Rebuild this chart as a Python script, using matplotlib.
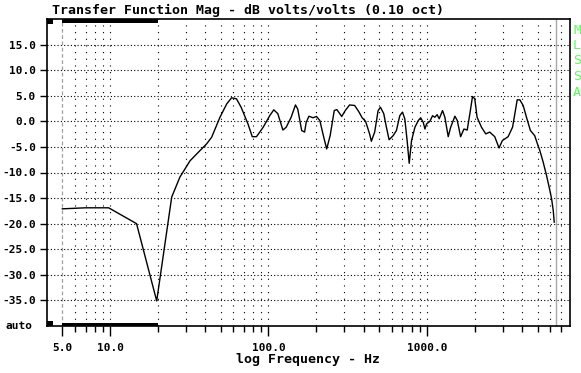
import numpy as np
from matplotlib import pyplot as plt

## data
freq = [5.0, 7.0, 9.8, 14.7, 19.7, 24.5, 27.6, 32, 37, 40.7, 43.8, 49.4, 54.5, 58.5, 62.8,
        67.2, 74.2, 79, 84, 92.6, 101.8, 108, 114.5, 123.3, 129.4, 139, 148, 153, 162, 169,
        173, 180, 191, 201, 211, 222, 233, 245, 260, 270, 290, 305, 325, 350, 373, 390, 410,
        425, 436, 446, 468, 492, 509, 534, 555, 577, 612, 642, 674, 701, 725, 750, 773, 800,
        840, 882, 913, 948, 972, 995, 1044, 1085, 1122, 1160, 1195, 1255, 1298, 1363, 1412,
        1502, 1555, 1632, 1713, 1796, 1867, 1940, 2005, 2073, 2210, 2351, 2491, 2680, 2852,
        2996, 3255, 3471, 3590, 3713, 3860, 4050, 4250, 4500, 4790, 5020, 5160, 5420, 5690,
        5970, 6120, 6270, 6360]
mag = [-17.1, -16.9, -16.9, -20.0, -35.1, -14.8, -10.9, -7.7, -5.7, -4.4, -3.1, 0.8, 3.4, 4.6, 4.4,
       2.75, -0.5, -3.0, -3.0, -1.15, 1.1, 2.25, 1.5, -1.7, -1.15, 0.8, 3.2, 2.4, -1.8, -2.1,
       -0.2, 1.0, 0.7, 0.95, 0.15, -2.8, -5.4, -2.8, 2.1, 2.3, 0.95, 2.1, 3.2, 3.1, 1.8, 0.7, 0.0,
       -1.5, -2.6, -3.9, -2.1, 2.1, 2.75, 1.5, -1.15, -3.6, -2.8, -1.8, 1.1, 1.8, 0.5, -3.75, -8.2, -3.75,
       -1.15, 0.15, 0.7, -0.2, -1.5, -0.5, 0.0, 1.1, 0.8, 1.3, 0.5, 2.1, 0.8, -3.0, -1.15,
       1.0, 0.15, -3.0, -1.5, -1.7, 1.5, 4.85, 4.4, 0.8, -1.15, -2.45, -2.1, -3.0, -5.2,
       -3.75, -3.0, -1.15, 1.5, 4.2, 4.2, 3.1, 0.8, -1.8, -2.8, -4.7, -5.7, -8.0, -10.6,
       -13.5, -15.1, -17.4, -19.7]

yticks = [15, 10, 5, 0, -5, -10, -15, -20, -25, -30, -35]
xticks = [5, 10, 100, 1000]
xticklabels = ['5.0', '10.0', '100.0', '1000.0']
minor_x = [6, 7, 8, 9, 20, 30, 40, 50, 60, 70, 80, 90, 200, 300, 400, 500, 600, 700, 800, 900,
           2000, 3000, 4000, 5000, 6000, 7000]

mono = 'DejaVu Sans Mono'

fig = plt.figure(figsize=(5.81, 3.73), dpi=100)
ax = fig.add_axes([47/581, 1-326/373, 523/581, 307/373])
ax.set_xscale('log')
ax.set_xlim(4, 8000)
ax.set_ylim(-40, 20)

# grid
for y in yticks:
    ax.axhline(y, color='black', lw=0.8, ls=(0, (1, 2)), zorder=1)
for x in minor_x + [10, 100, 1000]:
    ax.axvline(x, color='black', lw=0.8, ls=(0, (1, 5)), zorder=1)
ax.axvline(5, color='#a0a0a0', lw=0.9, ls=(0, (3, 2)), zorder=1)
ax.axvline(6500, color='#a8a8a8', lw=1.0, zorder=1)

# markers along edges
ax.axvspan(5, 20, ymin=1-3.5/307, ymax=1, color='black', lw=0, zorder=3)
ax.axvspan(5, 20, ymin=0, ymax=3.5/307, color='black', lw=0, zorder=3)
ax.axvspan(4, 4.37, ymin=1-5/307, ymax=1, color='black', lw=0, zorder=3)
ax.axvspan(4, 4.37, ymin=0, ymax=5/307, color='black', lw=0, zorder=3)

ax.plot(freq, mag, color='black', lw=1.0, zorder=4)

ax.set_yticks(yticks)
ax.set_yticklabels(['%.1f' % v for v in yticks])
ax.set_xticks(xticks)
ax.set_xticklabels(xticklabels)
ax.set_xticks(minor_x, minor=True)
ax.xaxis.set_minor_formatter(plt.NullFormatter())
ax.tick_params(axis='y', length=5, width=1, pad=3, labelsize=8)
ax.tick_params(axis='x', which='major', length=7, width=1, pad=5, labelsize=8)
ax.tick_params(axis='x', which='minor', length=4, width=1)
for lab in ax.get_xticklabels() + ax.get_yticklabels():
    lab.set_fontfamily(mono)
    lab.set_fontweight('bold')
for s in ax.spines.values():
    s.set_linewidth(1.2)

ax.text(-0.027, 0, 'auto', transform=ax.transAxes, ha='right', va='center',
        fontsize=8, fontweight='bold', fontfamily=mono)

fig.text(52/581, 1-10/373, 'Transfer Function Mag - dB volts/volts (0.10 oct)',
         ha='left', va='center', fontsize=9.5, fontweight='bold', fontfamily=mono)
fig.text(308/581, 1-360/373, 'log Frequency - Hz', ha='center', va='center',
         fontsize=9.5, fontweight='bold', fontfamily=mono)
fig.text(577/581, 1-61/373, 'M\nL\nS\nS\nA', ha='center', va='center', color='#55ff55',
         fontsize=9.5, fontfamily=mono, linespacing=1.25)

plt.savefig('out.png', dpi=100)
